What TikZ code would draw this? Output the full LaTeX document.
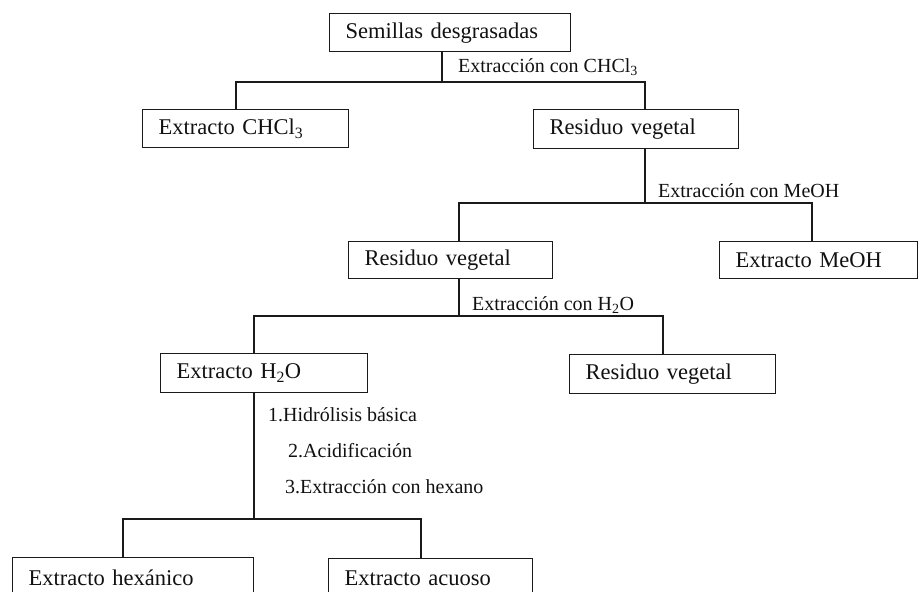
\documentclass[tikz,border=0pt]{standalone}
\usepackage{fontspec}
\setmainfont{Liberation Serif}
\usetikzlibrary{positioning,calc}
\definecolor{fxLine}{HTML}{1A1A1A}
\definecolor{fxText}{HTML}{111111}
\tikzset{
  fxbox/.style={
    draw=fxLine, line width=1.3pt, anchor=north west, align=left,
    inner xsep=16pt, inner ysep=0pt, text=fxText,
    font=\fontsize{22.5}{26}\selectfont
  },
  fxline/.style={draw=fxLine, line width=1.3pt},
  fxtag/.style={anchor=west, inner sep=0pt, text=fxText, font=\fontsize{20}{24}\selectfont}
}

\begin{document}
\begin{tikzpicture}[x=1pt, y=-1pt]
  \useasboundingbox (0,0) rectangle (919,592);
  % boxes
  \node[fxbox, text width=209pt, minimum height=38pt] (sem) at (329,13) {Semillas desgrasadas};
  \node[fxbox, text width=174pt, minimum height=38pt] (chcl) at (142,109) {Extracto CHCl\textsubscript{3}};
  \node[fxbox, text width=173pt, minimum height=39pt] (res1) at (533,109) {Residuo vegetal};
  \node[fxbox, text width=172pt, minimum height=37pt] (res2) at (348,241) {Residuo vegetal};
  \node[fxbox, text width=166pt, minimum height=37pt] (meoh) at (719,241) {Extracto MeOH};
  \node[fxbox, text width=175pt, minimum height=39pt] (agua) at (160,353) {Extracto H\textsubscript{2}O};
  \node[fxbox, text width=174pt, minimum height=39pt] (res3) at (569,354) {Residuo vegetal};
  \node[fxbox, text width=209pt, minimum height=40pt] (hex) at (12,557) {Extracto hexánico};
  \node[fxbox, text width=172pt, minimum height=40pt] (acu) at (328,558) {Extracto acuoso};

  % branch points
  \coordinate (k1) at (442,82);
  \coordinate (k1l) at (236,82);
  \coordinate (k1r) at (645,82);
  \coordinate (k2) at (645,203);
  \coordinate (k2l) at (459,203);
  \coordinate (k2r) at (812,203);
  \coordinate (k3) at (459,316);
  \coordinate (k3l) at (254,316);
  \coordinate (k3r) at (663,316);
  \coordinate (k4) at (254,519);
  \coordinate (k4l) at (123,519);
  \coordinate (k4r) at (421,519);

  \draw[fxline] (sem.south -| k1) -- (k1);
  \draw[fxline] (chcl.north -| k1l) -- (k1l) -- (k1r) -- (res1.north -| k1r);
  \draw[fxline] (res1.south -| k2) -- (k2);
  \draw[fxline] (res2.north -| k2l) -- (k2l) -- (k2r) -- (meoh.north -| k2r);
  \draw[fxline] (res2.south -| k3) -- (k3);
  \draw[fxline] (agua.north -| k3l) -- (k3l) -- (k3r) -- (res3.north -| k3r);
  \draw[fxline] (agua.south -| k4) -- (k4);
  \draw[fxline] (hex.north -| k4l) -- (k4l) -- (k4r) -- (acu.north -| k4r);

  % step labels
  \node[fxtag] (t1) at (458,67) {Extracción con CHCl\textsubscript{3}};
  \node[fxtag] (t2) at (658,191) {Extracción con MeOH};
  \node[fxtag] (t3) at (472,305) {Extracción con H\textsubscript{2}O};
  \node[fxtag] (t4a) at (268,415) {1.Hidrólisis básica};
  \node[fxtag] (t4b) at (288,451) {2.Acidificación};
  \node[fxtag] (t4c) at (285,487) {3.Extracción con hexano};
\end{tikzpicture}
\end{document}
